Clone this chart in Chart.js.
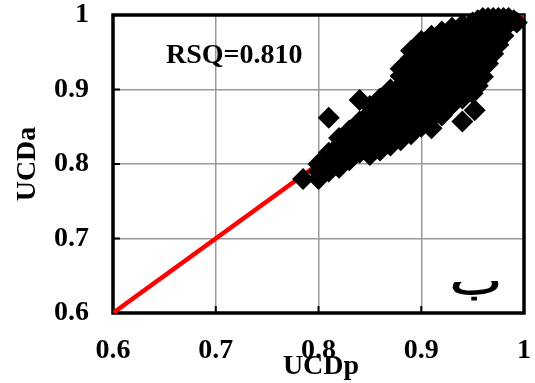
<!DOCTYPE html>
<html>
<head>
<meta charset="utf-8">
<script src="https://cdn.jsdelivr.net/npm/chart.js@4"></script>
<style>
  html, body { margin: 0; padding: 0; background: #fff; }
  #wrap { width: 535px; height: 383px; }
</style>
</head>
<body>
<div id="wrap"><canvas id="chart"></canvas></div>
<script>
// UCDp (x) and UCDa (y), column by column
const ucdp = [
  0.785, 0.80,
  0.80, 0.80,
  0.81, 0.81, 0.81, 0.81,
  0.82, 0.82, 0.82, 0.82,
  0.83, 0.83, 0.83, 0.83,
  0.84, 0.84, 0.84, 0.84, 0.84,
  0.85, 0.85, 0.85, 0.85, 0.85, 0.85,
  0.86, 0.86, 0.86, 0.86, 0.86, 0.86,
  0.87, 0.87, 0.87, 0.87, 0.87, 0.87,
  0.88, 0.88, 0.88, 0.88, 0.88, 0.88, 0.88, 0.88,
  0.89, 0.89, 0.89, 0.89, 0.89, 0.89, 0.89, 0.89, 0.89,
  0.90, 0.90, 0.90, 0.90, 0.90, 0.90, 0.90, 0.90, 0.90,
  0.91, 0.91, 0.91, 0.91, 0.91, 0.91, 0.91, 0.91, 0.91, 0.91,
  0.92, 0.92, 0.92, 0.92, 0.92, 0.92, 0.92, 0.92, 0.92,
  0.93, 0.93, 0.93, 0.93, 0.93, 0.93, 0.93, 0.93,
  0.94, 0.94, 0.94, 0.94, 0.94, 0.94, 0.94, 0.94, 0.94,
  0.952, 0.95, 0.95, 0.95, 0.95, 0.95, 0.95, 0.95, 0.95,
  0.955, 0.955, 0.955, 0.955,
  0.96, 0.96, 0.96, 0.96, 0.96, 0.96, 0.96,
  0.965, 0.965, 0.965, 0.965, 0.965,
  0.97, 0.97, 0.97, 0.97, 0.97,
  0.975, 0.975, 0.975, 0.975,
  0.98, 0.98, 0.98,
  0.985, 0.985,
  0.99, 0.993
];
const ucda = [
  0.78, 0.78,
  0.79, 0.80,
  0.79, 0.80, 0.815, 0.862,
  0.795, 0.81, 0.825, 0.835,
  0.805, 0.82, 0.835, 0.845,
  0.815, 0.83, 0.845, 0.857, 0.886,
  0.812, 0.825, 0.84, 0.855, 0.868, 0.878,
  0.818, 0.83, 0.845, 0.86, 0.875, 0.888,
  0.825, 0.84, 0.855, 0.87, 0.885, 0.90,
  0.832, 0.845, 0.86, 0.875, 0.89, 0.905, 0.918, 0.928,
  0.84, 0.855, 0.87, 0.885, 0.90, 0.915, 0.93, 0.942, 0.952,
  0.85, 0.865, 0.88, 0.895, 0.91, 0.925, 0.94, 0.955, 0.965,
  0.848, 0.86, 0.875, 0.89, 0.905, 0.92, 0.935, 0.95, 0.963, 0.972,
  0.865, 0.88, 0.895, 0.91, 0.925, 0.94, 0.955, 0.968, 0.978,
  0.88, 0.895, 0.91, 0.925, 0.94, 0.955, 0.97, 0.983,
  0.857, 0.888, 0.90, 0.915, 0.93, 0.945, 0.96, 0.975, 0.987,
  0.872, 0.895, 0.91, 0.925, 0.94, 0.955, 0.97, 0.982, 0.99,
  0.905, 0.935, 0.965, 0.993,
  0.917, 0.93, 0.945, 0.96, 0.975, 0.99, 0.996,
  0.935, 0.952, 0.97, 0.985, 0.996,
  0.948, 0.962, 0.977, 0.99, 0.996,
  0.96, 0.975, 0.988, 0.996,
  0.972, 0.985, 0.996,
  0.988, 0.996,
  0.993, 0.99
];

// 1:1 line
const lineX = [0.6, 1];
const lineY = [0.6, 1];

const tickValues = [0.6, 0.7, 0.8, 0.9, 1];
const rsqText = "RSQ=0.810";
const panelText = "ب";
const xTitle = "UCDp";
const yTitle = "UCDa";

const FONT = "'Liberation Serif', 'Times New Roman', serif";

const frame = {
  id: "frame",
  beforeDatasetsDraw(chart) {
    const { ctx, chartArea: a, scales: { x, y } } = chart;
    ctx.save();
    ctx.strokeStyle = "#000";
    ctx.lineWidth = 2;
    tickValues.forEach(v => {
      const px = x.getPixelForValue(v);
      ctx.beginPath(); ctx.moveTo(px, a.bottom); ctx.lineTo(px, a.bottom - 7); ctx.stroke();
      const py = y.getPixelForValue(v);
      ctx.beginPath(); ctx.moveTo(a.left, py); ctx.lineTo(a.left + 7, py); ctx.stroke();
    });
    ctx.lineWidth = 3.5;
    ctx.strokeRect(a.left, a.top, a.width, a.height);
    ctx.restore();
  },
  afterDraw(chart) {
    const { ctx, scales: { x, y } } = chart;
    ctx.save();
    ctx.fillStyle = "#000";
    ctx.textAlign = "center";
    ctx.textBaseline = "middle";

    ctx.font = "bold 28px " + FONT;
    ctx.fillText(rsqText, x.getPixelForValue(0.718), y.getPixelForValue(0.945));

    ctx.textBaseline = "middle";
    ctx.font = "bold 28px " + FONT;
    ctx.fillText(xTitle, 321, 367);

    ctx.save();
    ctx.translate(28, 164);
    ctx.rotate(-Math.PI / 2);
    ctx.fillText(yTitle, 0, 0);
    ctx.restore();

    // panel letter, a bit wider than the font draws it
    ctx.translate(x.getPixelForValue(0.953), 294);
    ctx.scale(1.3, 0.9);
    ctx.textBaseline = "alphabetic";
    ctx.font = "bold 42px " + FONT;
    ctx.fillText(panelText, 0, 0);
    ctx.restore();
  }
};

const tickFont = { family: FONT, size: 28, weight: "bold" };
const fmt = v => Math.abs(v - 1) < 1e-9 ? "1" : v.toFixed(1);

new Chart(document.getElementById("chart"), {
  type: "scatter",
  data: {
    datasets: [
      {
        data: ucdp.map((v, i) => ({ x: v, y: ucda[i] })),
        pointStyle: "rectRot",
        pointRadius: 11,
        backgroundColor: "#000",
        borderWidth: 0,
        clip: false,
        order: 0
      },
      {
        type: "line",
        data: lineX.map((v, i) => ({ x: v, y: lineY[i] })),
        borderColor: "#ff0000",
        borderWidth: 4.5,
        pointRadius: 0,
        order: 1
      }
    ]
  },
  options: {
    animation: false,
    responsive: true,
    maintainAspectRatio: false,
    layout: { padding: { top: 15, right: 8, left: 0, bottom: 0 } },
    plugins: { legend: { display: false }, tooltip: { enabled: false } },
    scales: {
      x: {
        type: "linear",
        min: 0.6,
        max: 1,
        ticks: { stepSize: 0.1, font: tickFont, color: "#000", padding: 21, callback: fmt, maxRotation: 0 },
        grid: { color: "#999", lineWidth: 1.5, drawTicks: false },
        border: { display: false },
        afterFit: s => { s.height = 70; s.paddingLeft = 0; s.paddingRight = 0; }
      },
      y: {
        type: "linear",
        min: 0.6,
        max: 1,
        ticks: { stepSize: 0.1, font: tickFont, color: "#000", padding: 24, callback: fmt },
        grid: { color: "#999", lineWidth: 1.5, drawTicks: false },
        border: { display: false },
        afterFit: s => { s.width = 113; s.paddingTop = 0; s.paddingBottom = 0; }
      }
    }
  },
  plugins: [frame]
});
</script>
</body>
</html>
